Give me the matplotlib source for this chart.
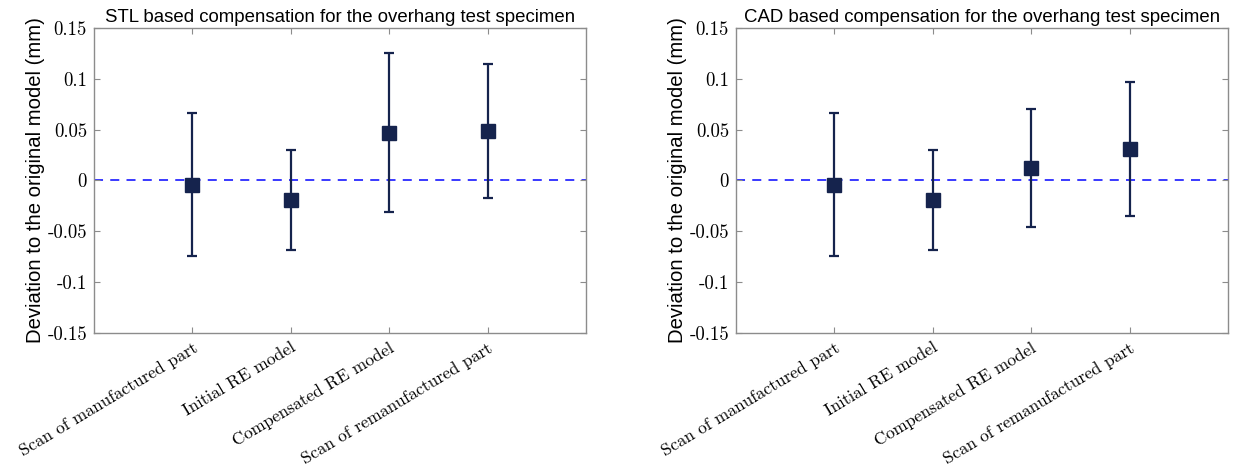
import numpy as np
import matplotlib.pyplot as plt

categories = ['Scan of manufactured part', 'Initial RE model',
              'Compensated RE model', 'Scan of remanufactured part']

# mean deviation and spread (mm)
stl_mean = [-0.004, -0.019, 0.047, 0.049]
stl_err = [0.070, 0.049, 0.078, 0.066]
cad_mean = [-0.004, -0.019, 0.0125, 0.031]
cad_err = [0.070, 0.049, 0.058, 0.066]

titles = ['STL based compensation for the overhang test specimen',
          'CAD based compensation for the overhang test specimen']
yticks = [-0.15, -0.1, -0.05, 0, 0.05, 0.1, 0.15]
yticklabels = ['-0.15', '-0.1', '-0.05', '0', '0.05', '0.1', '0.15']

navy = '#15234d'
spine_grey = '#8c8c8c'

fig = plt.figure(figsize=(12.33, 4.70), dpi=100)
ax1 = fig.add_axes([0.0762, 0.2915, 0.399, 0.649])
ax2 = fig.add_axes([0.5969, 0.2915, 0.399, 0.649])

x = np.arange(1, len(categories) + 1)

for ax, mean, err, title in [(ax1, stl_mean, stl_err, titles[0]),
                             (ax2, cad_mean, cad_err, titles[1])]:
    ax.axhline(0, color='#2a2aff', linestyle=(0, (5, 4)), linewidth=1.3, zorder=1)
    ax.errorbar(x, mean, yerr=err, fmt='s', color=navy, ecolor=navy,
                markersize=9.5, elinewidth=1.6, capsize=3.6, capthick=1.6, zorder=3)
    ax.set_xlim(0, 5)
    ax.set_ylim(-0.15, 0.15)
    ax.set_xticks(x)
    ax.set_xticklabels(categories, rotation=31, ha='right', va='top',
                       rotation_mode='anchor', family='cmr10', fontsize=12.6)
    ax.set_yticks(yticks)
    ax.set_yticklabels(yticklabels, family='cmr10', fontsize=13.5)
    ax.tick_params(direction='in', length=4, width=0.8, color=spine_grey,
                   top=True, right=True, pad=5)
    ax.tick_params(axis='x', pad=5)
    for s in ax.spines.values():
        s.set_color(spine_grey)
        s.set_linewidth(1.0)
    ax.set_title(title, family='Liberation Sans', fontsize=13.4, pad=4)
    ax.set_ylabel('Deviation to the original model (mm)', family='Liberation Sans',
                  fontsize=14.6, labelpad=1.5)

fig.savefig('out.png', dpi=100)
